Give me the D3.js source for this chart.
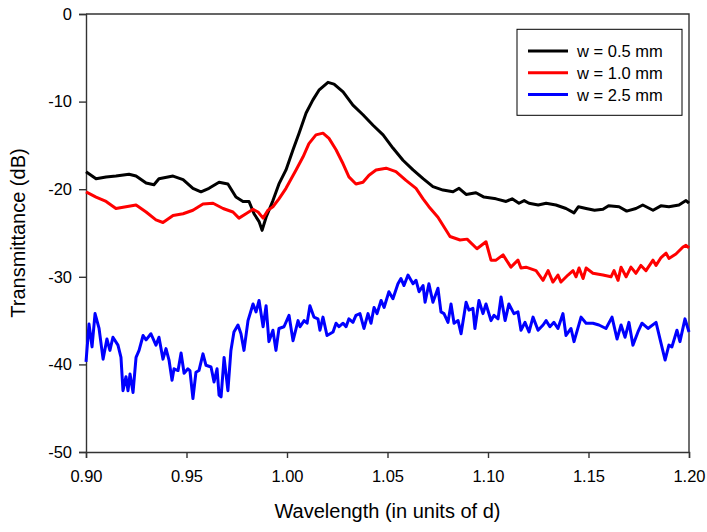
<!DOCTYPE html>
<html>
<head>
<meta charset="utf-8">
<script src="https://cdn.jsdelivr.net/npm/d3@7"></script>
<style>
  body { margin: 0; background: #fff; }
  svg text { font-family: "Liberation Sans", Arial, sans-serif; fill: #000; }
</style>
</head>
<body>
<div id="chart"></div>
<script>
// Series values: wavelength (units of d) and transmittance (dB)
const blackWl = [0.9000,0.9050,0.9100,0.9149,0.9214,0.9249,0.9299,0.9338,0.9363,0.9433,0.9483,0.9532,0.9572,0.9612,0.9662,0.9706,0.9746,0.9781,0.9811,0.9836,0.9861,0.9876,0.9896,0.9930,0.9960,0.9995,1.0030,1.0060,1.0095,1.0129,1.0159,1.0204,1.0234,1.0279,1.0328,1.0378,1.0428,1.0478,1.0527,1.0577,1.0627,1.0677,1.0726,1.0776,1.0826,1.0856,1.0891,1.0940,1.0980,1.1040,1.1090,1.1120,1.1154,1.1180,1.1204,1.1250,1.1289,1.1338,1.1388,1.1428,1.1450,1.1488,1.1530,1.1572,1.1600,1.1652,1.1690,1.1736,1.1770,1.1821,1.1860,1.1900,1.1950,1.1985,1.2000];
const blackDb = [-18.0,-18.8,-18.6,-18.5,-18.3,-18.5,-19.3,-19.5,-18.8,-18.5,-18.9,-19.9,-20.3,-19.9,-19.2,-19.4,-20.9,-21.4,-21.4,-22.8,-23.7,-24.7,-23.2,-21.3,-19.4,-17.8,-15.5,-13.6,-11.3,-9.8,-8.7,-7.8,-8.0,-8.9,-10.4,-11.5,-12.7,-13.8,-15.3,-16.7,-17.8,-18.8,-19.7,-20.1,-20.3,-19.9,-20.6,-20.4,-20.9,-21.1,-21.4,-21.1,-21.6,-21.3,-21.6,-21.8,-21.6,-21.8,-22.2,-22.7,-22.0,-22.2,-22.4,-22.3,-21.9,-22.0,-22.5,-22.2,-21.8,-22.4,-21.9,-22.0,-21.8,-21.3,-21.6];

const redWl = [0.9000,0.9050,0.9100,0.9149,0.9199,0.9249,0.9299,0.9348,0.9383,0.9433,0.9483,0.9532,0.9582,0.9632,0.9682,0.9731,0.9761,0.9796,0.9831,0.9856,0.9881,0.9905,0.9930,0.9960,0.9995,1.0045,1.0080,1.0109,1.0144,1.0179,1.0209,1.0244,1.0279,1.0308,1.0343,1.0378,1.0408,1.0443,1.0493,1.0542,1.0592,1.0642,1.0677,1.0706,1.0751,1.0811,1.0861,1.0896,1.0945,1.0990,1.1015,1.1040,1.1075,1.1114,1.1149,1.1164,1.1189,1.1239,1.1274,1.1299,1.1323,1.1348,1.1363,1.1398,1.1423,1.1438,1.1453,1.1473,1.1488,1.1522,1.1572,1.1612,1.1627,1.1647,1.1662,1.1687,1.1711,1.1736,1.1761,1.1786,1.1821,1.1836,1.1861,1.1886,1.1900,1.1935,1.1970,1.1985,1.2000];
const redDb = [-20.3,-20.9,-21.4,-22.2,-22.0,-21.8,-22.6,-23.5,-23.8,-23.0,-22.8,-22.4,-21.7,-21.6,-22.2,-22.6,-23.3,-22.8,-22.3,-22.6,-23.3,-22.4,-22.0,-21.1,-19.9,-17.8,-16.3,-14.8,-13.8,-13.6,-14.2,-15.5,-17.1,-18.6,-19.4,-19.2,-18.4,-17.8,-17.6,-18.0,-19.0,-19.9,-21.1,-22.0,-23.2,-25.4,-25.8,-25.7,-26.8,-26.0,-28.1,-28.1,-27.5,-28.9,-28.1,-29.0,-28.9,-29.3,-30.4,-29.3,-30.6,-29.8,-30.6,-29.8,-29.3,-30.0,-29.0,-30.2,-29.0,-29.6,-29.8,-30.0,-29.3,-30.4,-28.9,-30.0,-28.9,-29.6,-28.7,-29.3,-28.1,-28.7,-27.8,-27.3,-27.9,-27.4,-26.6,-26.4,-26.7];

const blueWl = [0.9000,0.9015,0.9030,0.9045,0.9065,0.9085,0.9104,0.9119,0.9134,0.9159,0.9174,0.9184,0.9199,0.9209,0.9219,0.9234,0.9249,0.9264,0.9284,0.9299,0.9323,0.9348,0.9363,0.9383,0.9398,0.9413,0.9428,0.9438,0.9458,0.9473,0.9488,0.9507,0.9517,0.9532,0.9547,0.9562,0.9582,0.9597,0.9622,0.9637,0.9652,0.9662,0.9672,0.9687,0.9706,0.9721,0.9736,0.9756,0.9771,0.9786,0.9806,0.9831,0.9846,0.9861,0.9881,0.9896,0.9910,0.9930,0.9945,0.9960,0.9985,1.0010,1.0030,1.0055,1.0065,1.0085,1.0100,1.0114,1.0134,1.0154,1.0164,1.0179,1.0199,1.0229,1.0244,1.0259,1.0279,1.0294,1.0308,1.0328,1.0343,1.0363,1.0383,1.0403,1.0418,1.0433,1.0448,1.0468,1.0483,1.0507,1.0527,1.0552,1.0567,1.0582,1.0602,1.0627,1.0642,1.0657,1.0677,1.0687,1.0706,1.0726,1.0751,1.0766,1.0781,1.0801,1.0816,1.0831,1.0851,1.0866,1.0891,1.0905,1.0925,1.0935,1.0955,1.0975,1.0990,1.1015,1.1030,1.1050,1.1065,1.1085,1.1104,1.1129,1.1149,1.1164,1.1184,1.1204,1.1224,1.1249,1.1274,1.1289,1.1308,1.1328,1.1348,1.1373,1.1388,1.1413,1.1428,1.1463,1.1488,1.1522,1.1552,1.1587,1.1617,1.1642,1.1662,1.1682,1.1701,1.1721,1.1746,1.1766,1.1796,1.1836,1.1861,1.1881,1.1900,1.1915,1.1940,1.1955,1.1980,1.2000];
const blueDb = [-39.7,-35.4,-38.0,-34.2,-35.9,-39.4,-37.1,-38.4,-36.9,-37.8,-39.2,-43.0,-41.4,-43.0,-41.1,-43.2,-39.2,-38.4,-36.7,-37.2,-36.5,-37.8,-36.9,-39.4,-38.2,-39.5,-41.8,-40.5,-40.7,-38.7,-41.0,-40.5,-40.7,-43.9,-40.9,-40.7,-38.8,-40.1,-40.3,-42.0,-40.5,-43.5,-43.7,-39.2,-43.0,-38.4,-36.3,-35.5,-36.5,-38.4,-35.0,-33.1,-34.0,-32.7,-35.7,-33.3,-37.4,-36.1,-38.4,-35.9,-35.7,-34.4,-37.3,-35.0,-35.7,-35.0,-35.3,-33.3,-34.6,-34.8,-36.1,-34.6,-36.7,-36.3,-35.3,-35.7,-35.3,-35.7,-34.8,-35.2,-34.4,-34.2,-35.9,-34.2,-35.3,-33.5,-34.2,-32.7,-33.5,-31.7,-32.5,-30.8,-30.2,-31.0,-29.8,-30.8,-30.4,-31.7,-31.0,-32.9,-30.8,-32.9,-31.3,-34.0,-34.2,-35.2,-33.1,-35.3,-35.0,-36.5,-32.9,-33.8,-33.6,-35.9,-32.7,-34.2,-33.1,-35.0,-34.4,-34.8,-32.3,-35.0,-33.1,-34.2,-34.0,-36.1,-35.2,-36.3,-34.6,-36.1,-35.5,-35.0,-35.7,-35.2,-35.9,-34.2,-36.7,-35.9,-37.4,-34.6,-35.3,-35.3,-35.5,-35.9,-34.6,-37.1,-35.5,-36.9,-35.2,-37.8,-36.3,-35.3,-35.9,-35.2,-37.6,-39.5,-37.8,-38.0,-36.1,-37.4,-34.8,-36.3];

const seriesNames = ["w = 0.5 mm", "w = 1.0 mm", "w = 2.5 mm"];
const seriesColors = ["#000000", "#ff0000", "#0000ff"];
const xTicks = [0.90, 0.95, 1.00, 1.05, 1.10, 1.15, 1.20];
const yTicks = [0, -10, -20, -30, -40, -50];

const series = [
    {name: seriesNames[0], color: seriesColors[0], wl: blackWl, db: blackDb},
    {name: seriesNames[1], color: seriesColors[1], wl: redWl, db: redDb},
    {name: seriesNames[2], color: seriesColors[2], wl: blueWl, db: blueDb}
];

const margin = {top: 14, right: 18, bottom: 80, left: 86};
const width = 707 - margin.left - margin.right;
const height = 532 - margin.top - margin.bottom;

const svg = d3.select("#chart")
    .append("svg")
    .attr("width", 707)
    .attr("height", 532)
    .append("g")
    .attr("transform", `translate(${margin.left},${margin.top})`);

const x = d3.scaleLinear().domain([0.9, 1.2]).range([0, width]);
const y = d3.scaleLinear().domain([-50, 0]).range([height, 0]);

// Frame (top and right)
svg.append("path")
    .attr("d", `M0,0H${width}V${height}`)
    .attr("fill", "none")
    .attr("stroke", "#333")
    .attr("stroke-width", 1.4);

// X axis
const xAxis = svg.append("g")
    .attr("transform", `translate(0,${height})`)
    .call(d3.axisBottom(x).tickValues(xTicks).tickFormat(d3.format(".2f")).tickSizeOuter(0).tickSize(6).tickPadding(12));

// Y axis
const yAxis = svg.append("g")
    .call(d3.axisLeft(y).tickValues(yTicks).tickFormat(d => d === 0 ? "0" : "-" + Math.abs(d)).tickSizeOuter(0).tickSize(7).tickPadding(7));

[xAxis, yAxis].forEach(g => {
    g.selectAll(".domain").attr("stroke", "#333").attr("stroke-width", 1.4);
    g.selectAll(".tick line").attr("stroke", "#333").attr("stroke-width", 1.4);
    g.selectAll("text").style("font-size", "16.5px").style("font-family", "'Liberation Sans', Arial, sans-serif");
});

// Lines
const line = d3.line()
    .x(d => x(d[0]))
    .y(d => y(d[1]));

series.forEach(s => {
    svg.append("path")
        .datum(s.wl.map((w, i) => [w, s.db[i]]))
        .attr("fill", "none")
        .attr("stroke", s.color)
        .attr("stroke-width", 3)
        .attr("stroke-linejoin", "round")
        .attr("d", line);
});

// Axis labels
svg.append("text")
    .attr("text-anchor", "middle")
    .attr("x", width / 2)
    .attr("y", height + 66)
    .style("font-size", "20px")
    .text("Wavelength (in units of d)");

svg.append("text")
    .attr("text-anchor", "middle")
    .attr("transform", "rotate(-90)")
    .attr("x", -height / 2)
    .attr("y", -61)
    .style("font-size", "20px")
    .text("Transmittance (dB)");

// Legend
const legend = svg.append("g").attr("transform", "translate(431,15.3)");
legend.append("rect")
    .attr("width", 165)
    .attr("height", 86)
    .attr("fill", "#fff")
    .attr("stroke", "#000")
    .attr("stroke-width", 1);

series.forEach((s, i) => {
    const ly = 21.7 + i * 21.8;
    legend.append("line")
        .attr("x1", 11).attr("x2", 51)
        .attr("y1", ly).attr("y2", ly)
        .attr("stroke", s.color)
        .attr("stroke-width", 3);
    legend.append("text")
        .attr("x", 60)
        .attr("y", ly + 6)
        .style("font-size", "16.5px")
        .text(s.name);
});
</script>
</body>
</html>
